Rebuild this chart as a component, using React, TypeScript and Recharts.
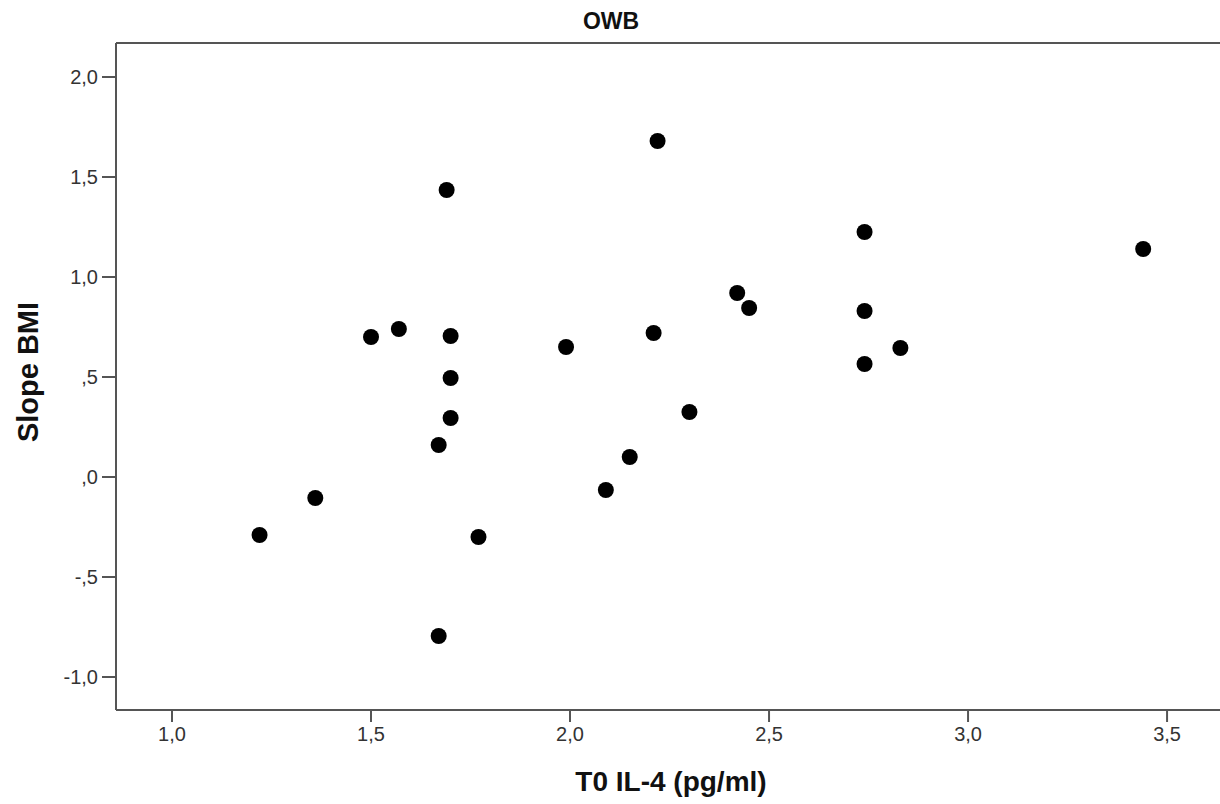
import {
  ScatterChart,
  Scatter,
  XAxis,
  YAxis,
  ReferenceLine,
} from "recharts";

// T0 IL-4 (pg/ml) values
const il4 = [
  1.22, 1.36, 1.5, 1.57, 1.69, 1.7, 1.7, 1.7, 1.67, 1.77, 1.67, 1.99, 2.09,
  2.15, 2.21, 2.22, 2.3, 2.42, 2.45, 2.74, 2.74, 2.74, 2.83, 3.44,
];
// Slope BMI, same order
const slopeBmi = [
  -0.29, -0.105, 0.7, 0.74, 1.435, 0.705, 0.495, 0.295, 0.16, -0.3, -0.795,
  0.65, -0.065, 0.1, 0.72, 1.68, 0.325, 0.92, 0.845, 1.225, 0.83, 0.565, 0.645,
  1.14,
];

const xTicks = [1.0, 1.5, 2.0, 2.5, 3.0, 3.5];
const yTicks = [-1.0, -0.5, 0, 0.5, 1.0, 1.5, 2.0];

const X_DOMAIN: [number, number] = [0.8593, 3.633];
const Y_DOMAIN: [number, number] = [-1.165, 2.17];

const points = il4.map((x, i) => ({ x, y: slopeBmi[i] }));

// SPSS style: comma decimals, no leading zero
const fmt = (v: number) => {
  const s = v.toFixed(1).replace(".", ",");
  return s.replace(/^(-?)0,/, "$1,");
};

const AXIS = "#555";
const FONT = "Arial, 'Liberation Sans', sans-serif";

const Dot = (props: any) => {
  const { cx, cy } = props;
  if (cx == null || cy == null) return null;
  return <circle cx={cx} cy={cy} r={8} fill="#000" />;
};

export default function App() {
  return (
    <div
      style={{
        position: "absolute",
        left: 0,
        top: 0,
        width: 1220,
        height: 804,
        background: "#fff",
        fontFamily: FONT,
        overflow: "hidden",
      }}
    >
      <ScatterChart
        width={1220}
        height={804}
        margin={{ top: 43, right: 0, bottom: 44, left: 16 }}
      >
        <XAxis
          type="number"
          dataKey="x"
          domain={X_DOMAIN}
          ticks={xTicks}
          allowDataOverflow
          tickFormatter={fmt}
          height={50}
          axisLine={{ stroke: AXIS, strokeWidth: 2 }}
          tickLine={{ stroke: AXIS, strokeWidth: 2 }}
          tickSize={12}
          tickMargin={5}
          tick={{ fill: "#333", fontSize: 20, fontFamily: FONT }}
        />
        <YAxis
          type="number"
          dataKey="y"
          domain={Y_DOMAIN}
          ticks={yTicks}
          allowDataOverflow
          tickFormatter={fmt}
          width={100}
          axisLine={{ stroke: AXIS, strokeWidth: 2 }}
          tickLine={{ stroke: AXIS, strokeWidth: 2 }}
          tickSize={14}
          tickMargin={4}
          tick={{ fill: "#333", fontSize: 20, fontFamily: FONT }}
        />
        <ReferenceLine
          y={Y_DOMAIN[1]}
          stroke={AXIS}
          strokeWidth={2}
          ifOverflow="visible"
        />
        <Scatter
          data={points}
          shape={<Dot />}
          isAnimationActive={false}
        />
      </ScatterChart>

      {/* title */}
      <div
        style={{
          position: "absolute",
          left: 511,
          width: 200,
          top: 8,
          textAlign: "center",
          fontWeight: "bold",
          fontSize: 23,
          color: "#111",
        }}
      >
        OWB
      </div>

      {/* x axis title */}
      <div
        style={{
          position: "absolute",
          left: 471,
          width: 400,
          top: 766,
          textAlign: "center",
          fontWeight: "bold",
          fontSize: 28,
          color: "#111",
        }}
      >
        T0 IL-4 (pg/ml)
      </div>

      {/* y axis title */}
      <div
        style={{
          position: "absolute",
          left: 28,
          top: 372,
          width: 300,
          transform: "translate(-50%, -50%) rotate(-90deg)",
          textAlign: "center",
          fontWeight: "bold",
          fontSize: 29,
          color: "#111",
        }}
      >
        Slope BMI
      </div>
    </div>
  );
}
